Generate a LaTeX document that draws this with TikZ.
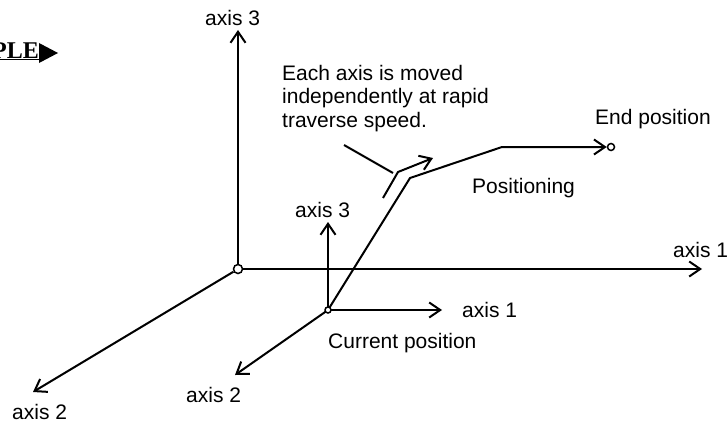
\documentclass[tikz,border=0pt]{standalone}
\usepackage{fontspec}
\setmainfont{Liberation Sans}
\newfontfamily\serifbold{Liberation Serif}
\usetikzlibrary{arrows.meta}
\begin{document}
\begin{tikzpicture}[x=1pt,y=-1pt,
  ln/.style={line width=2pt},
  ax/.style={ln,-{Straight Barb[length=11pt,width=15pt]}},
  pt/.style={circle,draw,fill=white,line width=1.5pt,inner sep=0pt},
  lbl/.style={anchor=base west,inner sep=0pt,font=\fontsize{21}{23.5}\selectfont}]
\useasboundingbox (0,0) rectangle (727,420);
% header fragment
\node[anchor=base east,inner sep=0pt,font=\serifbold\bfseries\fontsize{24}{26}\selectfont] (hdr) at (39,58) {\underline{PLE}};
\fill (hdr.base east) ++(0,-15) -- ++(19,10) -- ++(-19,10) -- cycle;
% main axes
\node[pt,minimum size=9pt] (O) at (238,269) {};
\coordinate (A3) at (238,30);
\coordinate (A1) at (702,269);
\coordinate (A2) at (33,392);
\draw[ax] (O) -- (A3);
\draw[ax] (O) -- (A1);
\draw[ax] (O) -- (A2);
\node[lbl] (la3) at (205,26) {axis 3};
\node[lbl] (la1) at (673,257) {axis 1};
\node[lbl] (la2) at (12,419) {axis 2};
% current position axes
\coordinate (Cc) at (328,310);
\coordinate (B3) at (328,222);
\coordinate (B1) at (442,310);
\coordinate (B2) at (235,375);
\draw[ax] (Cc) -- (B3);
\draw[ax] (Cc) -- (B1);
\draw[ax] (Cc) -- (B2);
% positioning path
\coordinate (K1) at (410,178);
\coordinate (K2) at (502,147);
\node[pt,minimum size=7pt] (E) at (611,147) {};
\draw[ax,line join=round] (Cc) -- (K1) -- (K2) -- (E);
\node[pt,minimum size=6pt] (C) at (Cc) {};
% indicator
\coordinate (I1) at (383,198);
\coordinate (I2) at (398,172);
\coordinate (I3) at (433,158);
\draw[ax] (I1) -- (I2) -- (I3);
\coordinate (L1) at (344,145);
\coordinate (L2) at (393,173);
\draw[ln] (L1) -- (L2);
% labels
\node[lbl] (lb3) at (295,217) {axis 3};
\node[lbl] (lb1) at (462,317) {axis 1};
\node[lbl] (lb2) at (186,402) {axis 2};
\node[lbl] (lcur) at (328,348) {Current position};
\node[lbl] (lend) at (595,124) {End position};
\node[lbl] (lpos) at (472,193) {Positioning};
\node[lbl,align=left] (lnote) at (282,127) {Each axis is moved\\independently at rapid\\traverse speed.};
\end{tikzpicture}
\end{document}
